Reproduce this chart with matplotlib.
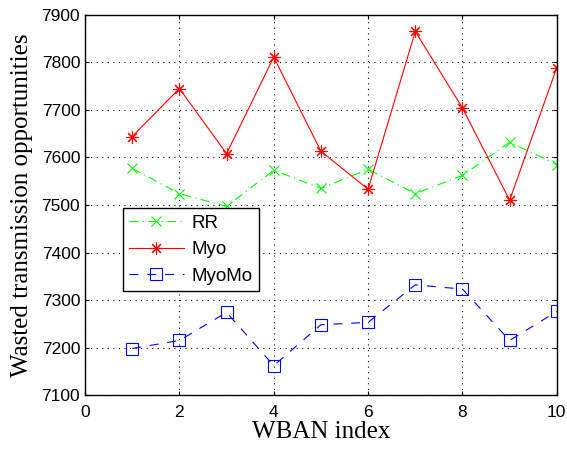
import matplotlib
matplotlib.use("Agg")
import matplotlib.pyplot as plt

x = [1, 2, 3, 4, 5, 6, 7, 8, 9, 10]
rr = [7577, 7524, 7497, 7573, 7535, 7575, 7524, 7562, 7632, 7585]
myo = [7644, 7745, 7608, 7811, 7613, 7533, 7865, 7704, 7510, 7789]
myomo = [7198, 7215, 7274, 7162, 7248, 7253, 7332, 7323, 7215, 7276]
xticks = [0, 2, 4, 6, 8, 10]
yticks = [7100, 7200, 7300, 7400, 7500, 7600, 7700, 7800, 7900]

fig = plt.figure(figsize=(5.67, 4.49), dpi=100)
ax = fig.add_axes([0.150, 0.120, 0.832, 0.847])

ax.plot(x, rr, color='#00ff00', linestyle='-.', linewidth=0.8, marker='x',
        markersize=7, markeredgewidth=0.8, label='RR', dashes=(8, 4, 1, 4))
ax.plot(x, myo, color='#ff0000', linestyle='-', linewidth=0.8, marker=(8, 2, 0),
        markersize=9, markeredgewidth=0.8, label='Myo')
ax.plot(x, myomo, color='#0000ff', linestyle='--', linewidth=0.8, marker='s',
        markersize=8, markerfacecolor='none', markeredgewidth=0.8, label='MyoMo',
        dashes=(8, 8))

ax.set_xlim(0, 10)
ax.set_ylim(7100, 7900)
ax.set_xticks(xticks)
ax.set_yticks(yticks)
ax.grid(True, linestyle=(0, (1, 4)), color='black', linewidth=0.8)
ax.tick_params(direction='in', top=True, right=True, labelsize=12.5, length=3)
ax.tick_params(axis='x', pad=7)
for lab in ax.get_xticklabels() + ax.get_yticklabels():
    lab.set_family('Liberation Sans')
for s in ax.spines.values():
    s.set_linewidth(1.0)

ax.set_xlabel('WBAN index', family='Liberation Serif', fontsize=18, labelpad=1)
ax.set_ylabel('Wasted transmission opportunities', family='Liberation Serif',
              fontsize=18, labelpad=6)

leg = ax.legend(loc='lower left', bbox_to_anchor=(0.06, 0.248),
                prop={'family': 'Liberation Sans', 'size': 13.5},
                fancybox=False, framealpha=1, edgecolor='black',
                handlelength=2.9, handletextpad=0.4, borderpad=0.35,
                labelspacing=0.5)
leg.get_frame().set_linewidth(1.0)

fig.savefig('out.png', dpi=100)
